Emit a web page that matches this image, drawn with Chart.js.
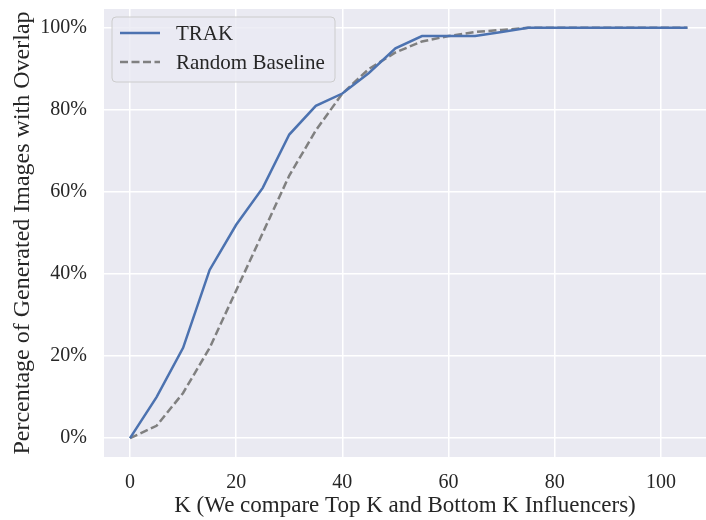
<!DOCTYPE html>
<html>
<head>
<meta charset="utf-8">
<script src="https://cdn.jsdelivr.net/npm/chart.js@4.4.1/dist/chart.umd.min.js"></script>
<style>
  html, body { margin: 0; padding: 0; background: #fff; }
  #wrap { width: 706px; height: 520px; }
</style>
</head>
<body>
<div id="wrap"><canvas id="chart"></canvas></div>
<script>
// K values (top K / bottom K influencers)
const kValues = [0, 5, 10, 15, 20, 25, 30, 35, 40, 45, 50, 55, 60, 65, 70, 75, 80, 85, 90, 95, 100, 105];
const trakOverlap = [0, 10, 22, 41, 52, 61, 74, 81, 84, 89, 95, 98, 98, 98, 99, 100, 100, 100, 100, 100, 100, 100];
const baselineOverlap = [0, 3, 11, 22, 36, 50, 64, 75, 84, 90, 94, 96.7, 98, 99, 99.5, 100, 100, 100, 100, 100, 100, 100];
const xTicks = [0, 20, 40, 60, 80, 100];
const yTicks = [0, 20, 40, 60, 80, 100];

const FONT = 'Liberation Serif';
const TEXT = '#262626';

const toPoints = (ys) => kValues.map((k, i) => ({ x: k, y: ys[i] }));

const plotBg = {
  id: 'plotBg',
  beforeDraw(chart) {
    const { ctx, chartArea: { left, top, right, bottom } } = chart;
    ctx.save();
    ctx.fillStyle = '#EAEAF2';
    ctx.fillRect(left, top, right - left, bottom - top);
    ctx.restore();
  },
};

// matplotlib-style legend box in the upper left of the plot
const boxLegend = {
  id: 'boxLegend',
  afterDatasetsDraw(chart) {
    const { ctx, chartArea: { left, top } } = chart;
    const x = left + 8;
    const y = top + 8;
    const w = 223;
    const h = 65;
    ctx.save();
    ctx.beginPath();
    ctx.roundRect(x, y, w, h, 4);
    ctx.fillStyle = 'rgba(234, 234, 242, 0.8)';
    ctx.fill();
    ctx.strokeStyle = '#cccccc';
    ctx.lineWidth = 1;
    ctx.stroke();
    ctx.font = `21px "${FONT}"`;
    ctx.textBaseline = 'middle';
    chart.data.datasets.forEach((ds, i) => {
      const ly = y + 16 + i * 29;
      ctx.beginPath();
      ctx.setLineDash(ds.borderDash || []);
      ctx.strokeStyle = ds.borderColor;
      ctx.lineWidth = ds.borderWidth;
      ctx.moveTo(x + 8, ly);
      ctx.lineTo(x + 48, ly);
      ctx.stroke();
      ctx.setLineDash([]);
      ctx.fillStyle = TEXT;
      ctx.fillText(ds.label, x + 64, ly + 1);
    });
    ctx.restore();
  },
};

new Chart(document.getElementById('chart'), {
  type: 'line',
  data: {
    datasets: [
      {
        label: 'TRAK',
        data: toPoints(trakOverlap),
        borderColor: '#4C72B0',
        borderWidth: 2.5,
        pointRadius: 0,
        tension: 0,
      },
      {
        label: 'Random Baseline',
        data: toPoints(baselineOverlap),
        borderColor: '#808080',
        borderWidth: 2.5,
        borderDash: [8, 3.5],
        pointRadius: 0,
        tension: 0,
      },
    ],
  },
  options: {
    responsive: true,
    maintainAspectRatio: false,
    animation: false,
    layout: { padding: { top: 9, right: 0, left: 0, bottom: 0 } },
    plugins: {
      legend: { display: false },
      tooltip: { enabled: false },
    },
    scales: {
      x: {
        type: 'linear',
        min: -4.9,
        max: 108.5,
        afterBuildTicks(scale) {
          scale.ticks = xTicks.map((v) => ({ value: v }));
        },
        afterFit(scale) {
          scale.height = 63;
          scale.paddingLeft = 0;
          scale.paddingRight = 0;
        },
        grid: { color: '#ffffff', lineWidth: 1.5, drawTicks: false },
        border: { display: false },
        ticks: {
          padding: 14,
          color: TEXT,
          font: { family: FONT, size: 20 },
        },
        title: {
          display: true,
          text: 'K (We compare Top K and Bottom K Influencers)',
          color: TEXT,
          font: { family: FONT, size: 23 },
          padding: { top: 0, bottom: 0 },
        },
      },
      y: {
        min: -4.6,
        max: 104.6,
        afterBuildTicks(scale) {
          scale.ticks = yTicks.map((v) => ({ value: v }));
        },
        afterFit(scale) {
          scale.width = 104;
          scale.paddingTop = 0;
          scale.paddingBottom = 0;
        },
        grid: { color: '#ffffff', lineWidth: 1.5, drawTicks: false },
        border: { display: false },
        ticks: {
          padding: 17,
          color: TEXT,
          font: { family: FONT, size: 20 },
          callback: (v) => `${v}%`,
        },
        title: {
          display: true,
          text: 'Percentage of Generated Images with Overlap',
          color: TEXT,
          font: { family: FONT, size: 24 },
          padding: { top: 8, bottom: 0 },
        },
      },
    },
  },
  plugins: [plotBg, boxLegend],
});
</script>
</body>
</html>
